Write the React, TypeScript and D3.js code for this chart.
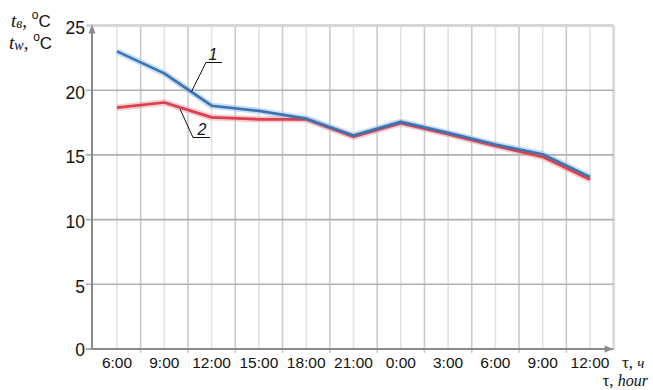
import React from "react";
import * as d3 from "d3";

const timeLabels = ["6:00", "9:00", "12:00", "15:00", "18:00", "21:00", "0:00", "3:00", "6:00", "9:00", "12:00"];
const seriesAir = [23.0, 21.3, 18.8, 18.4, 17.8, 16.5, 17.55, 16.7, 15.8, 15.05, 13.3];
const seriesWall = [18.65, 19.05, 17.9, 17.75, 17.75, 16.4, 17.45, 16.6, 15.7, 14.85, 13.1];
const yTicks = [0, 5, 10, 15, 20, 25];

const W = 653;
const H = 390;

export default function App() {
  const x = d3.scaleLinear().domain([0, timeLabels.length - 1]).range([117, 590]);
  const y = d3.scaleLinear().domain([0, 25]).range([349, 25.5]);
  const axisX = 92;
  const rightX = x(10.5);
  const y0 = y(0);

  const line = d3
    .line<number>()
    .x((_, i) => x(i))
    .y((d) => y(d));

  const halfSteps: number[] = [];
  for (let k = 0; k <= 20; k++) halfSteps.push(k / 2);

  const sans = "'Liberation Sans', Arial, sans-serif";
  const serif = "'Liberation Serif', 'Times New Roman', serif";

  return (
    <svg width={W} height={H} style={{ position: "absolute", left: 0, top: 0, background: "#fff" }}>
      {/* vertical grid */}
      {halfSteps.map((v) => {
        const isBoundary = v % 1 !== 0;
        return (
          <line
            key={"vg" + v}
            x1={x(v)}
            x2={x(v)}
            y1={y(25)}
            y2={isBoundary ? y0 + 4 : y0}
            stroke={isBoundary ? "#cbcbcb" : "#e2e2e2"}
            strokeWidth={1.6}
          />
        );
      })}
      {/* right frame */}
      <line x1={rightX} x2={rightX} y1={y(25)} y2={y0} stroke="#dcdcdc" strokeWidth={3} />
      {/* horizontal grid */}
      {yTicks.map((t) => (
        <line
          key={"hg" + t}
          x1={axisX - 6}
          x2={rightX}
          y1={y(t)}
          y2={y(t)}
          stroke={t === 25 ? "#d6d6d6" : t === 0 ? "#8a8a8a" : "#b0b0b0"}
          strokeWidth={t === 25 ? 3 : 1.6}
        />
      ))}
      {/* axes */}
      <line x1={axisX} x2={axisX} y1={y0} y2={y(25) + 4} stroke="#8a8a8a" strokeWidth={2} />
      <path d={`M${axisX - 3.5},${y(25) + 8} L${axisX},${y(25) - 1} L${axisX + 3.5},${y(25) + 8} Z`} fill="#8a8a8a" />
      <line x1={axisX} x2={rightX - 2} y1={y0} y2={y0} stroke="#8a8a8a" strokeWidth={2} />
      <path d={`M${rightX - 9},${y0 - 3.5} L${rightX},${y0} L${rightX - 9},${y0 + 3.5} Z`} fill="#8a8a8a" />

      {/* y tick labels */}
      {yTicks.map((t) => (
        <text
          key={"yl" + t}
          x={85}
          y={y(t) + (t === 0 ? 0.5 : 2.5)}
          textAnchor="end"
          dominantBaseline="central"
          fontFamily={sans}
          fontSize={17.5}
          fill="#111"
        >
          {t}
        </text>
      ))}
      {/* x tick labels */}
      {timeLabels.map((lbl, i) => (
        <text key={"xl" + i} x={x(i)} y={368} textAnchor="middle" fontFamily={sans} fontSize={15.5} fill="#111">
          {lbl}
        </text>
      ))}

      {/* lines with glow */}
      <path d={line(seriesWall) || ""} fill="none" stroke="#f0a0a8" strokeOpacity={0.55} strokeWidth={6.5} strokeLinejoin="round" />
      <path d={line(seriesAir) || ""} fill="none" stroke="#9cc4ea" strokeOpacity={0.55} strokeWidth={6.5} strokeLinejoin="round" />
      <path d={line(seriesWall) || ""} fill="none" stroke="#d9414e" strokeWidth={2.7} strokeLinejoin="round" />
      <path d={line(seriesAir) || ""} fill="none" stroke="#3d74b0" strokeWidth={2.7} strokeLinejoin="round" />

      {/* annotations */}
      <polyline points="191.5,91.5 206,62.5 222,62.5" fill="none" stroke="#111" strokeWidth={1} />
      <text x={213} y={60} textAnchor="middle" fontFamily={sans} fontStyle="italic" fontSize={16} fill="#111">
        1
      </text>
      <polyline points="180,109 193,137.5 210,137.5" fill="none" stroke="#111" strokeWidth={1} />
      <text x={202} y={135} textAnchor="middle" fontFamily={sans} fontStyle="italic" fontSize={16} fill="#111">
        2
      </text>

      {/* y axis title */}
      <text x={11} y={27} fontSize={19} fill="#111">
        <tspan fontFamily={serif} fontStyle="italic">t</tspan>
        <tspan fontFamily={serif} fontStyle="italic" fontSize={14} dy={1}>в</tspan>
        <tspan fontFamily={serif} dy={-1}>, </tspan>
        <tspan fontFamily={sans} fontSize={12} dy={-8}>o</tspan>
        <tspan fontFamily={sans} fontSize={17} dy={8}>C</tspan>
      </text>
      <text x={9} y={49} fontSize={19} fill="#111">
        <tspan fontFamily={serif} fontStyle="italic">t</tspan>
        <tspan fontFamily={serif} fontStyle="italic" fontSize={14} dy={1}>w</tspan>
        <tspan fontFamily={serif} dy={-1}>, </tspan>
        <tspan fontFamily={sans} fontSize={12} dy={-8}>o</tspan>
        <tspan fontFamily={sans} fontSize={17} dy={8}>C</tspan>
      </text>

      {/* x axis title */}
      <text x={622} y={368} textAnchor="start" fontFamily={serif} fontSize={17} fill="#111">
        <tspan>τ, </tspan>
        <tspan fontStyle="italic" fontSize={15}>ч</tspan>
      </text>
      <text x={648} y={386} textAnchor="end" fontFamily={serif} fontSize={16} fill="#111">
        <tspan fontSize={17}>τ, </tspan>
        <tspan fontStyle="italic">hour</tspan>
      </text>
    </svg>
  );
}
